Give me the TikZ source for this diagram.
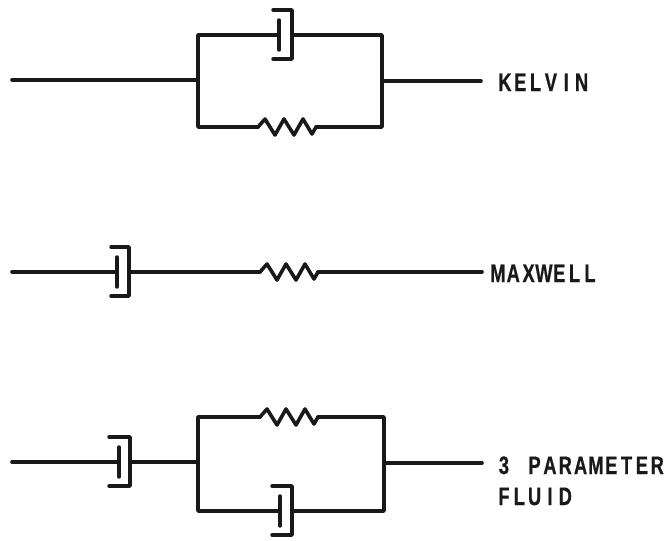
\documentclass[tikz,border=0pt]{standalone}
\usepackage{fontspec}
\setmainfont{Liberation Sans}[BoldFeatures={FakeStretch=0.72,FakeBold=0.6}]
\makeatletter
\newcommand{\pitched}[1]{\@tfor\pitch@c:=#1\do{\makebox[11.5pt]{\pitch@c}}}
\makeatother
\tikzset{
  wire/.style={line width=2.7pt,line cap=round,line join=round,draw=black!90},
  cupline/.style={line width=2.6pt,line cap=round,line join=round,draw=black!90},
  lab/.style={anchor=base west,inner sep=0pt,font=\fontsize{19}{19}\selectfont\bfseries,text=black!90}
}
% #1 prefix, #2 x of plate, #3 y axis, #4 x of cup, #5 x of cup-lip
\newcommand{\dashpotshape}[5]{%
  \coordinate (#1p) at (#2,#3);
  \coordinate (#1c) at (#4,#3);
  \draw[cupline] (#2,#3-15) -- (#2,#3+15);
  \draw[cupline] (#5,#3-25) -- (#4,#3-25) -- (#4,#3+24) -- (#5,#3+24);
}
% #1 prefix, #2 x start, #3 y axis
\newcommand{\resistorshape}[3]{%
  \coordinate (#1a) at (#2,#3);
  \coordinate (#1b) at (#2+58,#3);
  \draw[wire] (#1a) -- ++(7,-8) -- ++(10,16) -- ++(9,-16) -- ++(10,16) -- ++(9,-16) -- ++(9,15) -- (#1b);
}
\begin{document}
\begin{tikzpicture}[x=0.75pt,y=-0.75pt]
\useasboundingbox (0,0) rectangle (671,540);
% Kelvin
\coordinate (kin) at (12,80);
\coordinate (kl) at (198,80);
\coordinate (kr) at (382,81);
\coordinate (kout) at (481,81);
\dashpotshape{kd}{279}{35}{292}{273}
\resistorshape{kz}{258}{127}
\draw[wire] (kin) -- (kl);
\draw[wire] (kr) -- (kout);
\draw[wire] (kdp) -- (198,35) -- (198,127) -- (kza);
\draw[wire] (kdc) -- (382,35) -- (382,127) -- (kzb);
\node[lab] (kelvin) at (497,91) {\pitched{KELVIN}};
% Maxwell
\coordinate (min) at (12,272);
\coordinate (mout) at (482,272);
\dashpotshape{md}{117}{272}{129}{111}
\resistorshape{mz}{260}{272}
\draw[wire] (min) -- (mdp);
\draw[wire] (mdc) -- (mza);
\draw[wire] (mzb) -- (mout);
\node[lab] (maxwell) at (490,282) {\pitched{MAXWELL}};
% 3 parameter
\coordinate (pin) at (12,462);
\coordinate (pl) at (198,462);
\coordinate (pr) at (384,463);
\coordinate (pout) at (482,463);
\dashpotshape{pd}{119}{462}{130}{109}
\dashpotshape{qd}{280}{511}{292}{272}
\resistorshape{pz}{260}{417}
\draw[wire] (pin) -- (pdp);
\draw[wire] (pdc) -- (pl);
\draw[wire] (pr) -- (pout);
\draw[wire] (pza) -- (198,417) -- (198,511) -- (qdp);
\draw[wire] (pzb) -- (384,417) -- (384,511) -- (qdc);
\node[lab] (three) at (496,474) {\pitched{3~PARAMETER}};
\node[lab] (fluid) at (496,505) {\pitched{FLUID}};
\end{tikzpicture}
\end{document}
